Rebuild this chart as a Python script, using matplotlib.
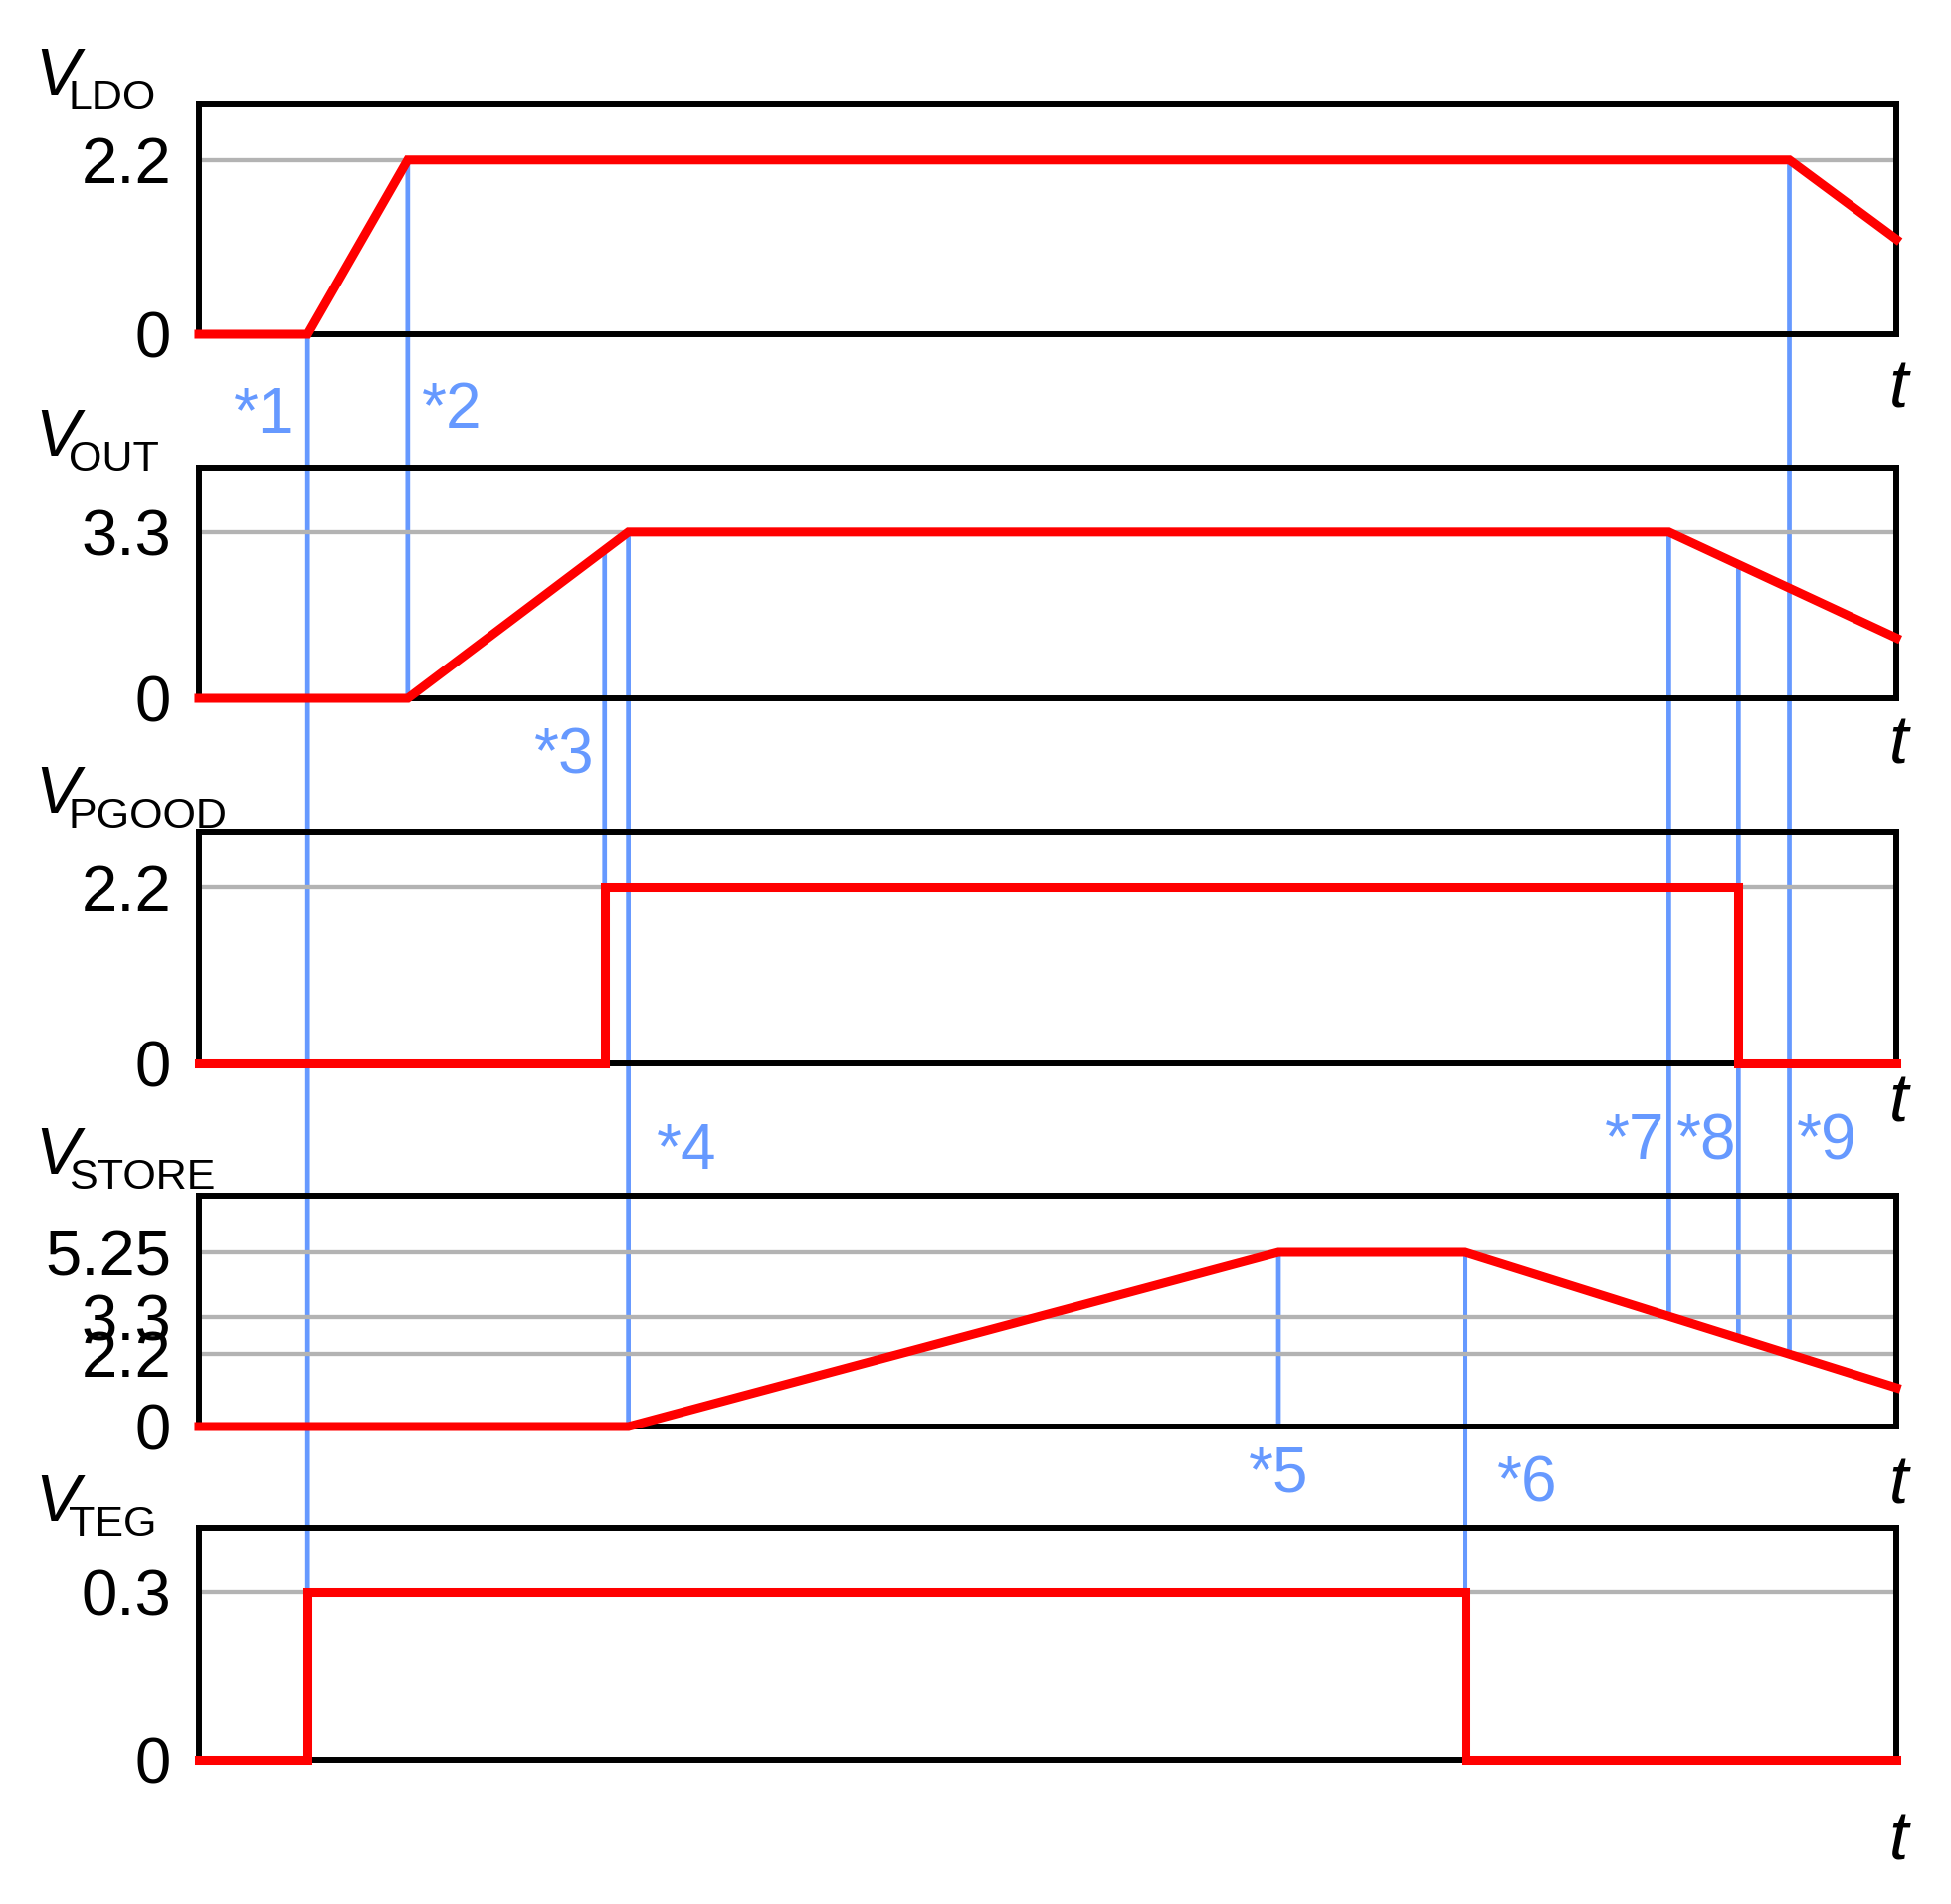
import matplotlib
matplotlib.use('Agg')
import matplotlib.pyplot as plt
from matplotlib.patches import ConnectionPatch

plt.rcParams['font.family'] = ['Liberation Sans', 'DejaVu Sans']

# traces (time in % of the window, voltage in V)
t_ldo = [0, 6.4, 12.3, 93.7, 100]
v_ldo = [0, 0, 2.2, 2.2, 1.2]
t_out = [0, 12.3, 25.3, 86.6, 100]
v_out = [0, 0, 3.3, 3.3, 1.2]
t_pgood = [0, 23.9, 23.9, 90.7, 90.7, 100]
v_pgood = [0, 0, 2.2, 2.2, 0, 0]
t_store = [0, 25.3, 63.6, 74.6, 100]
v_store = [0, 0, 5.25, 5.25, 1.17]
t_teg = [0, 6.4, 6.4, 74.6, 74.6, 100]
v_teg = [0, 0, 0.3, 0.3, 0, 0]

names = ['LDO', 'OUT', 'PGOOD', 'STORE', 'TEG']
ticks = [[0, 2.2], [0, 3.3], [0, 2.2], [0, 2.2, 3.3, 5.25], [0, 0.3]]
tick_labels = [['0', '2.2'], ['0', '3.3'], ['0', '2.2'], ['0', '2.2', '3.3', '5.25'], ['0', '0.3']]
ytop = [2.9, 4.58, 2.9, 6.96, 0.414]

# event markers: time, top panel/value, bottom panel/value
mark_labels = ['*1', '*2', '*3', '*4', '*5', '*6', '*7', '*8', '*9']
mark_t = [6.4, 12.3, 23.9, 25.3, 63.6, 74.6, 86.6, 90.7, 93.7]
mark_top_panel = [0, 0, 1, 1, 3, 3, 1, 1, 0]
mark_top_v = [0, 2.2, 2.94, 3.3, 5.25, 5.25, 3.3, 2.66, 2.2]
mark_bot_panel = [4, 1, 2, 3, 3, 4, 3, 3, 3]
mark_bot_v = [0.3, 0, 2.2, 0, 0, 0.3, 3.32, 2.66, 2.18]

RED = '#ff0000'
BLUE = '#6699ff'
GRAY = '#b3b3b3'
W, H = 1961, 1914


def fx(x):
    return x / W


def fy(y):
    return 1 - y / H


fig = plt.figure(figsize=(W / 100, H / 100), dpi=100)

# panel boxes in pixels (top, bottom)
boxes = [(105, 336), (470, 702), (836, 1069), (1202, 1434), (1536, 1769)]
traces = [(t_ldo, v_ldo), (t_out, v_out), (t_pgood, v_pgood),
          (t_store, v_store), (t_teg, v_teg)]

axes = []
for i, (top, bot) in enumerate(boxes):
    ax = fig.add_axes([fx(200), fy(bot), fx(1906) - fx(200), (bot - top) / H])
    ax.set_facecolor('none')
    ax.set_xlim(0, 100)
    ax.set_ylim(0, ytop[i])
    for s in ax.spines.values():
        s.set_linewidth(4.3)
        s.set_color('black')
    ax.set_xticks([])
    ax.set_yticks(ticks[i], tick_labels[i])
    ax.tick_params(axis='y', length=0, pad=20, labelsize=47)
    for v in ticks[i][1:]:
        ax.axhline(v, color=GRAY, lw=3.1, zorder=1)
    t, v = traces[i]
    ax.plot(t, v, color=RED, lw=6.5, zorder=3, clip_on=False,
            solid_joinstyle='miter')
    axes.append(ax)

# vertical event lines across panels
for k in range(len(mark_t)):
    cp = ConnectionPatch(xyA=(mark_t[k], mark_top_v[k]),
                         coordsA=axes[mark_top_panel[k]].transData,
                         xyB=(mark_t[k], mark_bot_v[k]),
                         coordsB=axes[mark_bot_panel[k]].transData,
                         color=BLUE, lw=3.4, zorder=-1)
    fig.add_artist(cp)

# signal names: italic V with subscript
name_base = [95, 458, 817, 1180, 1529]
for name, yb in zip(names, name_base):
    fig.text(fx(35), fy(yb), 'V', fontsize=48, style='italic',
             ha='left', va='baseline')
    fig.text(fx(69), fy(yb + 15), name, fontsize=31,
             ha='left', va='baseline')

# time labels
t_base = [410, 768, 1127, 1512, 1869]
for yb in t_base:
    fig.text(fx(1908), fy(yb), 't', fontsize=50, style='italic',
             ha='center', va='baseline')

# marker labels
mark_pos = [(295, 435, 'right'), (424, 430, 'left'), (598, 777, 'right'),
            (660, 1175, 'left'), (1285, 1499, 'center'), (1505, 1510, 'left'),
            (1673, 1165, 'right'), (1685, 1165, 'left'), (1806, 1165, 'left')]
for lab, (x, y, ha) in zip(mark_labels, mark_pos):
    fig.text(fx(x), fy(y), lab, fontsize=46, color=BLUE, ha=ha, va='baseline')

fig.savefig('out.png', dpi=100)
